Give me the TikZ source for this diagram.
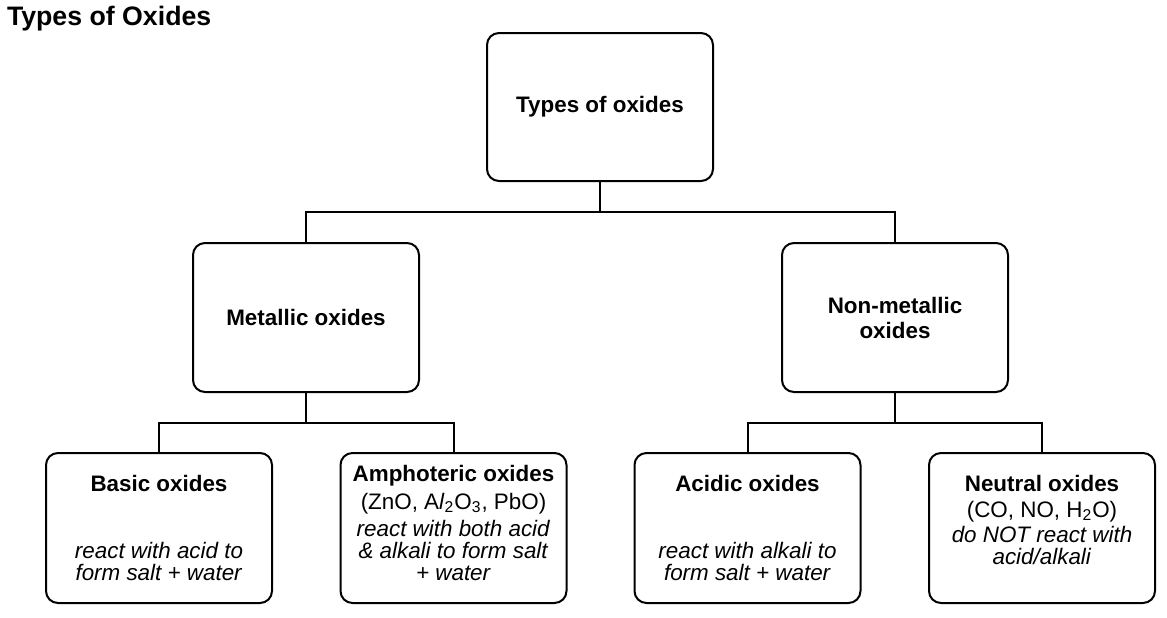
\documentclass[tikz,border=0pt]{standalone}
\usepackage{fontspec}
\setmainfont{Liberation Sans}
\usetikzlibrary{positioning}

\begin{document}
\begin{tikzpicture}
[x=0.5pt, y=-0.5pt,
 line width=1pt,
 every node/.style={font=\fontsize{11.2}{11.2}\selectfont},
 box/.style={draw, rounded corners=6pt, align=center,
   minimum width=113pt, minimum height=74.5pt, inner sep=0pt},
 leaf/.style={box, minimum height=75pt},
 txt/.style={align=center, inner sep=0pt},
]

\useasboundingbox (0,0) rectangle (1167,617);

% heading
\node[anchor=base west, inner sep=0pt,
  font=\bfseries\fontsize{13.35}{13.35}\selectfont] (title) at (6,25) {Types of Oxides};

% boxes
\node[box, minimum height=74pt] (root) at (600,107) {\textbf{Types of oxides}};
\node[box] (metal) at (306,317.5) {\textbf{Metallic oxides}};
\node[box] (nonmetal) at (895,317.5) {\textbf{Non-metallic}\\[1.3pt]\textbf{oxides}};

\node[leaf] (basic) at (159,528) {};
\node[leaf] (amph) at (453.5,528) {};
\node[leaf] (acid) at (747.5,528) {};
\node[leaf] (neutral) at (1042,528) {};

% texts of the lowest boxes
\node[txt] (basic-t) at (159,528)
  {\textbf{Basic oxides}\\[22pt]\textit{react with acid to}\\\textit{form salt + water}};
\node[txt] (amph-t) at (453.5,523)
  {\textbf{Amphoteric oxides}\\[2.8pt](ZnO, A\textit{l}\textsubscript{2}O\textsubscript{3}, PbO)\\[2.3pt]%
   \textit{react with both acid}\\\textit{\& alkali to form salt}\\\textit{+ water}};
\node[txt] (acid-t) at (747.5,528)
  {\textbf{Acidic oxides}\\[22pt]\textit{react with alkali to}\\\textit{form salt + water}};
\node[txt] (neutral-t) at (1042,520)
  {\textbf{Neutral oxides}\\[1.8pt](CO, NO, H\textsubscript{2}O)\\[1.3pt]%
   \textit{do NOT react with}\\\textit{acid/alkali}};

% branch points
\coordinate (top-bar) at (600,212);
\coordinate (metal-bar) at (306,423);
\coordinate (nonmetal-bar) at (895,423);

% connectors
\draw (root.south) -- (top-bar);
\draw (metal.north) |- (top-bar) -| (nonmetal.north);
\draw (metal.south) -- (metal-bar);
\draw (basic.north) |- (metal-bar) -| (amph.north);
\draw (nonmetal.south) -- (nonmetal-bar);
\draw (acid.north) |- (nonmetal-bar) -| (neutral.north);
\end{tikzpicture}
\end{document}
